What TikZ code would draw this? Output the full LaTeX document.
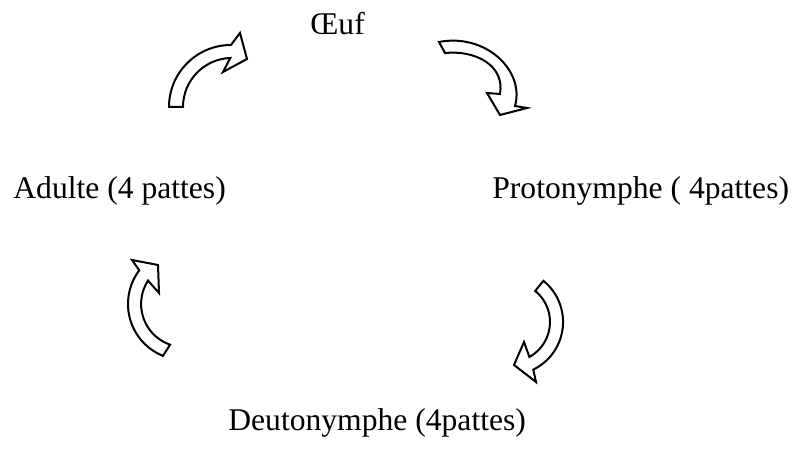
\documentclass[tikz,border=0pt]{standalone}
\usepackage{fontspec}
\setmainfont{Liberation Serif}
\usepackage{tikz}

\tikzset{
  stage/.style={font=\fontsize{15.8bp}{19bp}\selectfont, inner sep=0pt, anchor=base west},
  cyclearrow/.style={draw, line width=1bp, fill=white, line join=miter}
}

\begin{document}
\begin{tikzpicture}[x=0.5bp,y=-0.5bp]
\useasboundingbox (0,0) rectangle (795,452);

% Stages of the cycle
\node[stage] (egg) at (310,35) {Œuf};
\node[stage] (proto) at (492,199) {Protonymphe ( 4pattes)};
\node[stage] (deuto) at (228,431) {Deutonymphe (4pattes)};
\node[stage] (adult) at (13,199) {Adulte (4 pattes)};

% Arrow adult -> egg
\draw[cyclearrow] (169,107) arc[start angle=180,end angle=270,radius=62]
  -- (240,33) -- (247,59) -- (223,72) -- (230.3,58)
  arc[start angle=268,end angle=180,radius=49] -- cycle;

% Arrow egg -> protonymphe
\draw[cyclearrow] (439,42) .. controls (485,33) and (525,70) .. (515,106)
  -- (527,108) -- (500,115) -- (487,93) -- (500,94)
  .. controls (505,65) and (475,50) .. (445,53) -- cycle;

% Arrow protonymphe -> deutonymphe
\draw[cyclearrow] (543.4,280.8) arc[start angle=-51,end angle=64,radius=53]
  -- (536,382) -- (514,365) -- (524,342) -- (529.4,357)
  arc[start angle=61,end angle=-51,radius=40] -- cycle;

% Arrow deutonymphe -> adult
\draw[cyclearrow] (163,355.9) arc[start angle=112,end angle=217,radius=56]
  -- (132,260) -- (158,265) -- (159,293) -- (148,280.6)
  arc[start angle=213,end angle=109,radius=43] -- cycle;
\end{tikzpicture}
\end{document}
